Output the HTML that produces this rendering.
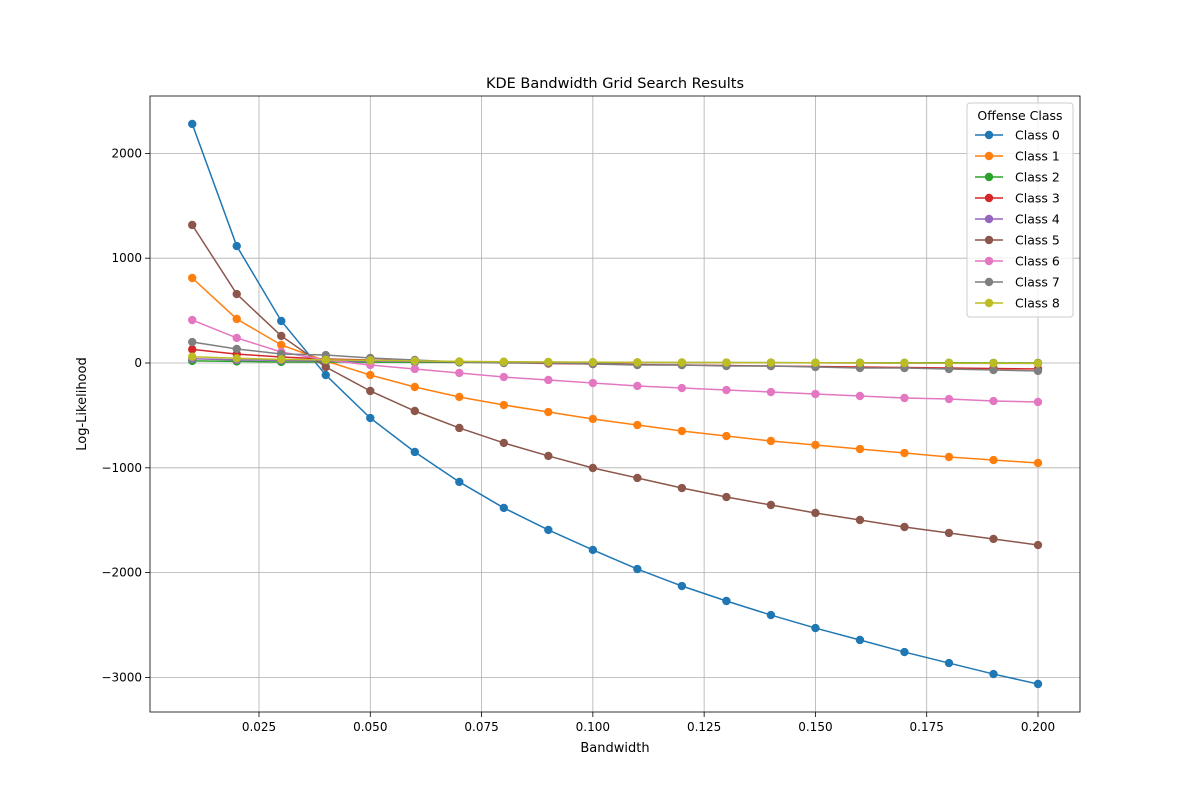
<!DOCTYPE html>
<html><head><meta charset="utf-8"><style>
body{margin:0;background:#fff;font-family:"Liberation Sans","DejaVu Sans",sans-serif}
svg text{font-family:"DejaVu Sans","Liberation Sans",sans-serif}
</style></head><body>
<svg id="chart" width="1200" height="800" xmlns="http://www.w3.org/2000/svg"></svg>
<script>
const bandwidths=[0.01,0.02,0.03,0.04,0.05,0.06,0.07,0.08,0.09,0.10,0.11,0.12,0.13,0.14,0.15,0.16,0.17,0.18,0.19,0.20];
const class0=[2281,1116,401,-115,-525,-849,-1135,-1383,-1593,-1784,-1966,-2128,-2271,-2405,-2529,-2643,-2758,-2863,-2968,-3063];
const class1=[811,420,172,19,-115,-229,-324,-401,-468,-534,-592,-649,-697,-744,-782,-821,-859,-897,-926,-954];
const class2=[20,15,10,10,8,7,6,5,5,4,4,3,3,3,2,2,2,2,1,1];
const class3=[130,85,57,38,29,19,10,5,-5,-10,-15,-19,-24,-29,-33,-38,-43,-48,-52,-57];
const class4=[40,30,25,20,18,15,12,10,8,6,5,4,3,2,1,0,-1,-2,-3,-4];
const class5=[1317,658,258,-38,-267,-458,-620,-763,-887,-1002,-1097,-1193,-1279,-1355,-1431,-1498,-1565,-1622,-1679,-1737];
const class6=[410,239,105,29,-19,-57,-95,-134,-162,-191,-219,-239,-258,-277,-296,-315,-334,-344,-363,-372];
const class7=[200,134,86,76,48,29,10,0,0,-10,-19,-19,-29,-29,-38,-48,-48,-57,-67,-76];
const class8=[60,45,35,30,25,20,15,12,10,8,6,5,4,3,2,1,0,-1,-2,-3];
const seriesNames=["Class 0","Class 1","Class 2","Class 3","Class 4","Class 5","Class 6","Class 7","Class 8"];
const xTicks=[0.025,0.050,0.075,0.100,0.125,0.150,0.175,0.200];
const yTicks=[2000,1000,0,-1000,-2000,-3000];
const yTickLabels=["2000","1000","0","\u22121000","\u22122000","\u22123000"];

const series=[class0,class1,class2,class3,class4,class5,class6,class7,class8];
const colors=["#1f77b4","#ff7f0e","#2ca02c","#d62728","#9467bd","#8c564b","#e377c2","#7f7f7f","#bcbd22"];
const L=150,R=1080,T=96,B=712;
const xs=v=>259+(v-0.025)*(1038-259)/0.175;
const ys=v=>363-v*0.1048;
const svg=document.getElementById('chart');
const NS="http://www.w3.org/2000/svg";
function mk(tag,attrs,parent){const e=document.createElementNS(NS,tag);for(const k in attrs)e.setAttribute(k,attrs[k]);(parent||svg).appendChild(e);return e;}
const grid=mk('g',{});


xTicks.forEach((t,i)=>{const x=xs(t);
mk('line',{x1:x,x2:x,y1:T,y2:B,stroke:'#b0b0b0','stroke-width':0.8},grid);
mk('line',{x1:x,x2:x,y1:B,y2:B+5,stroke:'#000','stroke-width':0.8});
const tx=mk('text',{x:x,y:B+19,'text-anchor':'middle','font-size':12});tx.textContent=t.toFixed(3);

});
yTicks.forEach((t,i)=>{const y=ys(t);
mk('line',{x1:L,x2:R,y1:y,y2:y,stroke:'#b0b0b0','stroke-width':0.8},grid);
mk('line',{x1:L-5,x2:L,y1:y,y2:y,stroke:'#000','stroke-width':0.8});
const tx=mk('text',{x:L-8,y:y+4,'text-anchor':'end','font-size':12});tx.textContent=yTickLabels[i];

});
series.forEach((s,si)=>{const g=mk('g',{});


mk('polyline',{points:s.map((v,i)=>xs(bandwidths[i])+','+ys(v)).join(' '),fill:'none',stroke:colors[si],'stroke-width':1.5},g);
s.forEach((v,i)=>{const c=mk('circle',{cx:xs(bandwidths[i]),cy:ys(v),r:4.2,fill:colors[si]},g);

});});
const frame=mk('rect',{x:L,y:T,width:R-L,height:B-T,fill:'none',stroke:'#000','stroke-width':0.8});


const title=mk('text',{x:615,y:88,'text-anchor':'middle','font-size':14.5});title.textContent='KDE Bandwidth Grid Search Results';


const xl=mk('text',{x:615,y:752,'text-anchor':'middle','font-size':13});xl.textContent='Bandwidth';


const yl=mk('text',{x:86,y:404,'text-anchor':'middle','font-size':13,transform:'rotate(-90 86 404)'});yl.textContent='Log-Likelihood';


const lg=mk('g',{});


mk('rect',{x:967,y:103,width:106,height:214,rx:3,fill:'#fff','fill-opacity':0.8,stroke:'#ccc'},lg);
const lt=mk('text',{x:1020,y:120,'text-anchor':'middle','font-size':12.5},lg);lt.textContent='Offense Class';
seriesNames.forEach((n,i)=>{const y=135+i*21;const e=mk('g',{},lg);


mk('line',{x1:975,x2:1003,y1:y,y2:y,stroke:colors[i],'stroke-width':1.5},e);
mk('circle',{cx:989,cy:y,r:4.2,fill:colors[i]},e);
const t=mk('text',{x:1015,y:y+4.5,'font-size':12.5},e);t.textContent=n;});
</script>
</body></html>
